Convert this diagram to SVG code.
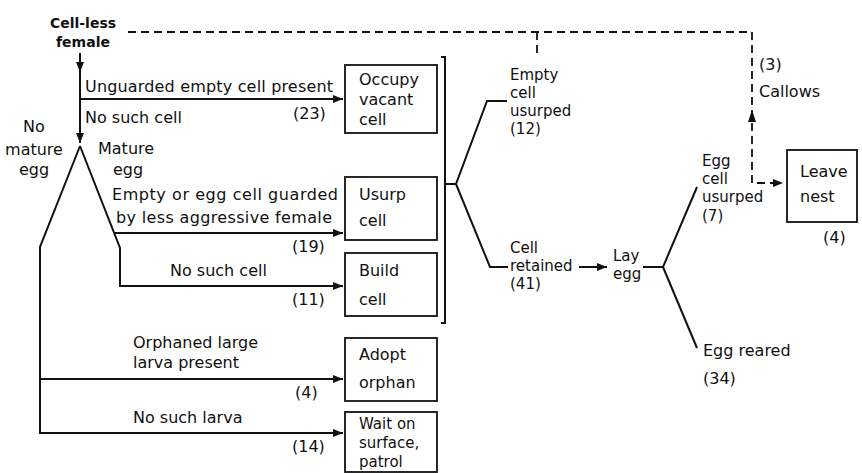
<svg xmlns="http://www.w3.org/2000/svg" width="862" height="473" viewBox="0 0 862 473">
<defs>
<marker id="arr" markerUnits="userSpaceOnUse" markerWidth="11" markerHeight="8" refX="10" refY="4" orient="auto">
<path d="M0,0 L10,4 L0,8 z" fill="#111"/>
</marker>
<style>
text{font-family:"DejaVu Sans","Liberation Sans",sans-serif;font-size:16px;fill:#111}
.b{font-weight:bold;font-size:14px}
.s{font-size:15px}
.ln{fill:none;stroke:#111;stroke-width:2}
.ds{fill:none;stroke:#111;stroke-width:1.8;stroke-dasharray:8 5}
.box{fill:#fff;stroke:#111;stroke-width:1.8}
.m{text-anchor:middle}
</style>
</defs>
<rect width="862" height="473" fill="#fff"/>
<g id="connectors">
<path class="ds" d="M128,32 H752 V183 H783" marker-end="url(#arr)"/>
<path class="ds" d="M537,32 V58"/>
<path d="M752,110 L748,122 L756,122 z" fill="#111"/>
<path class="ln" d="M80,53 V72" marker-end="url(#arr)"/>
<path class="ln" d="M80,72 V143" marker-end="url(#arr)"/>
<path class="ln" d="M80,99 H343" marker-end="url(#arr)"/>
<path class="ln" d="M80,146 L40,247 V433 H343" marker-end="url(#arr)"/>
<path class="ln" d="M40,379 H343" marker-end="url(#arr)"/>
<path class="ln" d="M80,146 L120,248 V286 H343" marker-end="url(#arr)"/>
<path class="ln" d="M114,233 H343" marker-end="url(#arr)"/>
<path class="ln" d="M441,57 H445 V323 H441"/>
<path class="ln" d="M445,184 H456 L487,101 H507"/>
<path class="ln" d="M456,184 L490,267 H508"/>
<path class="ln" d="M579,267 H607" marker-end="url(#arr)"/>
<path class="ln" d="M643,267 H663 L697,187"/>
<path class="ln" d="M663,267 L697,348"/>
</g>
<g id="start">
<text class="b m" x="83" y="28">Cell-less</text>
<text class="b m" x="83" y="47">female</text>
</g>
<g id="label-unguarded">
<text x="85" y="92" textLength="248">Unguarded empty cell present</text>
<text x="293" y="119">(23)</text>
</g>
<g id="label-nosuchcell1"><text x="85" y="123">No such cell</text></g>
<g id="label-nomature">
<text class="m" x="34" y="132">No</text>
<text class="m" x="34" y="155">mature</text>
<text class="m" x="34" y="175">egg</text>
</g>
<g id="label-mature">
<text x="98" y="154">Mature</text>
<text x="113" y="175">egg</text>
</g>
<g id="label-guarded">
<text x="112" y="200" textLength="226">Empty or egg cell guarded</text>
<text x="116" y="223" textLength="216">by less aggressive female</text>
<text x="292" y="252">(19)</text>
</g>
<g id="label-nosuchcell2">
<text x="170" y="276">No such cell</text>
<text x="292" y="305">(11)</text>
</g>
<g id="label-orphaned">
<text x="133" y="348">Orphaned large</text>
<text x="133" y="368">larva present</text>
<text x="295" y="398">(4)</text>
</g>
<g id="label-nosuchlarva">
<text x="133" y="423">No such larva</text>
<text x="292" y="452">(14)</text>
</g>
<g id="occupy">
<rect class="box" x="345" y="65" width="92" height="68"/>
<text x="359" y="85">Occupy</text>
<text x="359" y="105">vacant</text>
<text x="359" y="125">cell</text>
</g>
<g id="usurp">
<rect class="box" x="345" y="177" width="92" height="63"/>
<text x="359" y="200">Usurp</text>
<text x="359" y="226">cell</text>
</g>
<g id="build">
<rect class="box" x="345" y="253" width="92" height="63"/>
<text x="359" y="276">Build</text>
<text x="359" y="305">cell</text>
</g>
<g id="adopt">
<rect class="box" x="345" y="338" width="92" height="63"/>
<text x="359" y="360">Adopt</text>
<text x="359" y="388">orphan</text>
</g>
<g id="wait">
<rect class="box" x="345" y="412" width="92" height="60"/>
<text class="s" x="359" y="429">Wait on</text>
<text class="s" x="359" y="448">surface,</text>
<text class="s" x="359" y="467">patrol</text>
</g>
<g id="empty-usurped">
<text class="s" x="510" y="80">Empty</text>
<text class="s" x="510" y="98">cell</text>
<text class="s" x="510" y="116">usurped</text>
<text class="s" x="510" y="134">(12)</text>
</g>
<g id="cell-retained">
<text class="s" x="510" y="253">Cell</text>
<text class="s" x="510" y="271">retained</text>
<text class="s" x="510" y="289">(41)</text>
</g>
<g id="lay-egg">
<text class="s" x="613" y="261">Lay</text>
<text class="s" x="613" y="279">egg</text>
</g>
<g id="egg-usurped">
<text class="s" x="702" y="166">Egg</text>
<text class="s" x="702" y="184">cell</text>
<text class="s" x="702" y="202">usurped</text>
<text class="s" x="702" y="221">(7)</text>
</g>
<g id="egg-reared">
<text x="703" y="356">Egg reared</text>
<text x="703" y="384">(34)</text>
</g>
<g id="callows">
<text x="759" y="70">(3)</text>
<text x="759" y="97">Callows</text>
</g>
<g id="leave">
<rect class="box" x="787" y="150" width="70" height="72"/>
<text x="800" y="177">Leave</text>
<text x="800" y="202">nest</text>
<text x="823" y="243">(4)</text>
</g>
</svg>
